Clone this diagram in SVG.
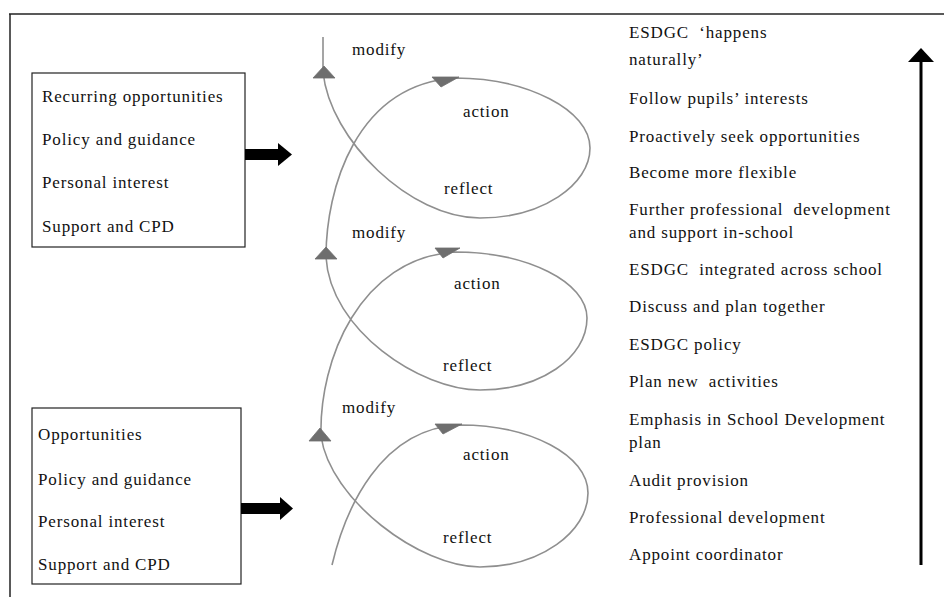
<svg xmlns="http://www.w3.org/2000/svg" width="944" height="597" viewBox="0 0 944 597">
  <style>
    text { font-family: "Liberation Serif", "Times New Roman", serif; font-size: 17px; fill: #111; letter-spacing: 0.85px; }
    .pre { white-space: pre; }
    .frame { stroke: #222; stroke-width: 1.5; fill: none; }
    .box { stroke: #222; stroke-width: 1.2; fill: #fff; }
    .coil { stroke: #8f8f8f; stroke-width: 1.6; fill: none; }
    .coilhead { fill: #6e6e6e; stroke: #6e6e6e; stroke-width: 0.8; stroke-linejoin: round; }
    .block { fill: #000; }
  </style>

  <!-- outer frame (top and left edges) -->
  <g id="frame">
    <line class="frame" x1="9" y1="14" x2="944" y2="14"/>
    <line class="frame" x1="10" y1="14" x2="10" y2="597"/>
  </g>

  <!-- upper influences box -->
  <g id="influences-later">
    <rect class="box" x="32" y="73" width="213" height="174"/>
    <text x="42" y="102">Recurring opportunities</text>
    <text x="42" y="145">Policy and guidance</text>
    <text x="42" y="188">Personal interest</text>
    <text x="42" y="232">Support and CPD</text>
  </g>

  <!-- lower influences box -->
  <g id="influences-early">
    <rect class="box" x="32" y="408" width="209" height="176"/>
    <text x="38" y="440">Opportunities</text>
    <text x="38" y="485">Policy and guidance</text>
    <text x="38" y="527">Personal interest</text>
    <text x="38" y="570">Support and CPD</text>
  </g>

  <!-- action / reflect / modify coil labels -->
  <g id="cycle">
    <text x="352" y="55">modify</text>
    <text x="463" y="117">action</text>
    <text x="444" y="194">reflect</text>
    <text x="352" y="238">modify</text>
    <text x="454" y="289">action</text>
    <text x="443" y="371">reflect</text>
    <text x="342" y="413">modify</text>
    <text x="463" y="460">action</text>
    <text x="443" y="543">reflect</text>
  </g>

  <!-- right-hand list of stages -->
  <g id="stages">
    <text class="pre" x="629" y="38">ESDGC  ‘happens</text>
    <text x="629" y="65">naturally’</text>
    <text x="629" y="104">Follow pupils’ interests</text>
    <text x="629" y="142">Proactively seek opportunities</text>
    <text x="629" y="178">Become more flexible</text>
    <text class="pre" x="629" y="215">Further professional  development</text>
    <text x="629" y="238">and support in-school</text>
    <text class="pre" x="629" y="275">ESDGC  integrated across school</text>
    <text x="629" y="312">Discuss and plan together</text>
    <text x="629" y="350">ESDGC policy</text>
    <text class="pre" x="629" y="387">Plan new  activities</text>
    <text x="629" y="425">Emphasis in School Development</text>
    <text x="629" y="448">plan</text>
    <text x="629" y="486">Audit provision</text>
    <text x="629" y="523">Professional development</text>
    <text x="629" y="560">Appoint coordinator</text>
  </g>

  <!-- connectors -->
  <g id="connectors">
    <!-- coil: three loops rising from the bottom -->
    <path class="coil" d="M332,565 C345,510 380,428 460,425
      C530,425 588,455 588,493
      C588,532 540,567 480,567
      C420,567 330,500 321,436
      C319,360 360,258 455,252
      C527,252 587,282 587,318
      C587,358 540,390 480,390
      C420,390 330,330 326,257
      C326,190 355,85 455,78
      C527,78 590,110 590,148
      C590,185 542,218 480,218
      C410,218 330,140 323,72
      L323,37"/>
    <!-- upward heads on the modify arcs -->
    <polygon class="coilhead" points="324,66 335,78 313,78"/>
    <polygon class="coilhead" points="326,247 337,259 315,259"/>
    <polygon class="coilhead" points="320,428 331,441 309,441"/>
    <!-- rightward heads at the top of each loop -->
    <polygon class="coilhead" points="432,77 459,77 441,87"/>
    <polygon class="coilhead" points="435,248 460,248 443,258"/>
    <polygon class="coilhead" points="435,424 462,424 443,434"/>

    <!-- block arrows from the boxes into the coil -->
    <rect class="block" x="245" y="149" width="34" height="11"/>
    <polygon class="block" points="278,143 292,154.5 278,166"/>
    <rect class="block" x="241" y="503" width="40" height="11"/>
    <polygon class="block" points="280,497 293,508.5 280,520"/>

    <!-- progression arrow -->
    <line x1="921" y1="60" x2="921" y2="565" stroke="#000" stroke-width="3"/>
    <polygon class="block" points="921,48 934,62 908,62"/>
  </g>
</svg>
